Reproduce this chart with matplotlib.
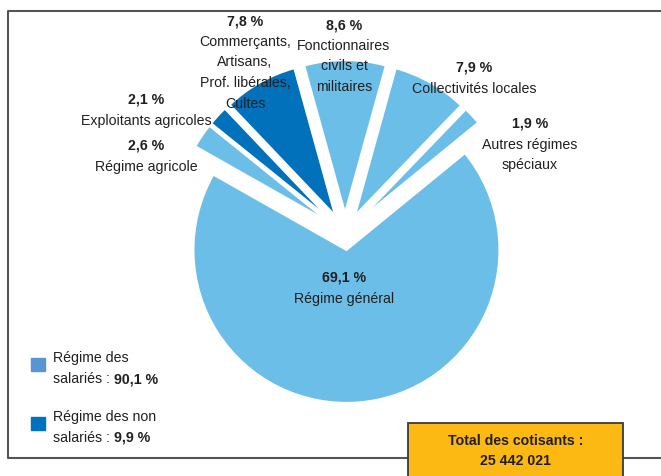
import matplotlib; matplotlib.use("Agg")
import matplotlib.pyplot as plt
from matplotlib.patches import Rectangle

plt.rcParams['font.family'] = ['Liberation Sans', 'DejaVu Sans']

# data (counter-clockwise from the right)
names = ["Autres régimes\nspéciaux", "Collectivités locales", "Fonctionnaires\ncivils et\nmilitaires",
         "Commerçants,\nArtisans,\nProf. libérales,\nCultes", "Exploitants agricoles",
         "Régime agricole", "Régime général"]
shares = [1.9, 7.9, 8.6, 7.8, 2.1, 2.6, 69.1]
pct_text = ["1,9 %", "7,9 %", "8,6 %", "7,8 %", "2,1 %", "2,6 %", "69,1 %"]
salaried = [True, True, True, False, False, True, True]
legend_labels = [("Régime des", "salariés : ", "90,1 %"), ("Régime des non", "salariés : ", "9,9 %")]
total_label = "Total des cotisants :\n25 442 021"

LIGHT = "#6bbee7"; DARK = "#0071ba"; INK = "#231f20"
FS = 10.2
W, H = 661, 476
fig = plt.figure(figsize=(W/100, H/100), dpi=100)
ax = fig.add_axes([0, 0, 1, 1])

cols = [LIGHT if s else DARK for s in salaried]
expl = [20]*6 + [17]   # offsets in pixel units (data units here)
start = 90 - (shares[0] + shares[1] + shares[2]/2) * 3.6
ax.pie(shares, colors=cols, explode=expl, startangle=start, counterclock=True,
       center=(345, H-233), radius=153, frame=True,
       wedgeprops=dict(edgecolor="white", linewidth=1.5))
ax.set_xlim(0, W); ax.set_ylim(0, H); ax.set_aspect("equal"); ax.axis("off")

# label positions in pixels (x, y of the percentage line)
pos = [(530, 124), (474, 68), (344, 25), (245, 21), (146, 100), (146, 146), (344, 278)]
for (x, y), p, n in zip(pos, pct_text, names):
    ax.text(x, H-y, p, ha="center", va="center", fontsize=FS, fontweight="bold", color=INK)
    for i, line in enumerate(n.split("\n")):
        ax.text(x, H-(y+21+i*20.5), line, ha="center", va="center", fontsize=FS, color=INK)

# frame
fr = dict(color="#555555", lw=1.5, zorder=1)
ax.plot([W+5, 7.5, 7.5, W+5], [H-11, H-11, 18, 18], clip_on=False, **fr)

# legend
for (l1, l2, l3), c, y in zip(legend_labels, ["#5596d3", "#0071bc"], [358, 417]):
    ax.add_patch(Rectangle((31, H-y-13), 14, 13, color=c))
    ax.text(53, H-y, l1, ha="left", va="center", fontsize=FS, color=INK)
    t = ax.text(53, H-(y+21), l2, ha="left", va="center", fontsize=FS, color=INK)
    ax.annotate(l3, xy=(1, 0), xycoords=t, ha="left", va="bottom", fontsize=FS,
                fontweight="bold", color=INK)

# total box
ax.add_patch(Rectangle((408, -5), 215, H-423+5, facecolor="#fdb913", edgecolor="#3a3a3a",
                       lw=1.3, zorder=3, clip_on=False))
ax.text(515.5, H-451, total_label, ha="center", va="center", fontsize=FS, fontweight="bold",
        color=INK, linespacing=1.6, zorder=4)

fig.savefig("out.png", dpi=100)
